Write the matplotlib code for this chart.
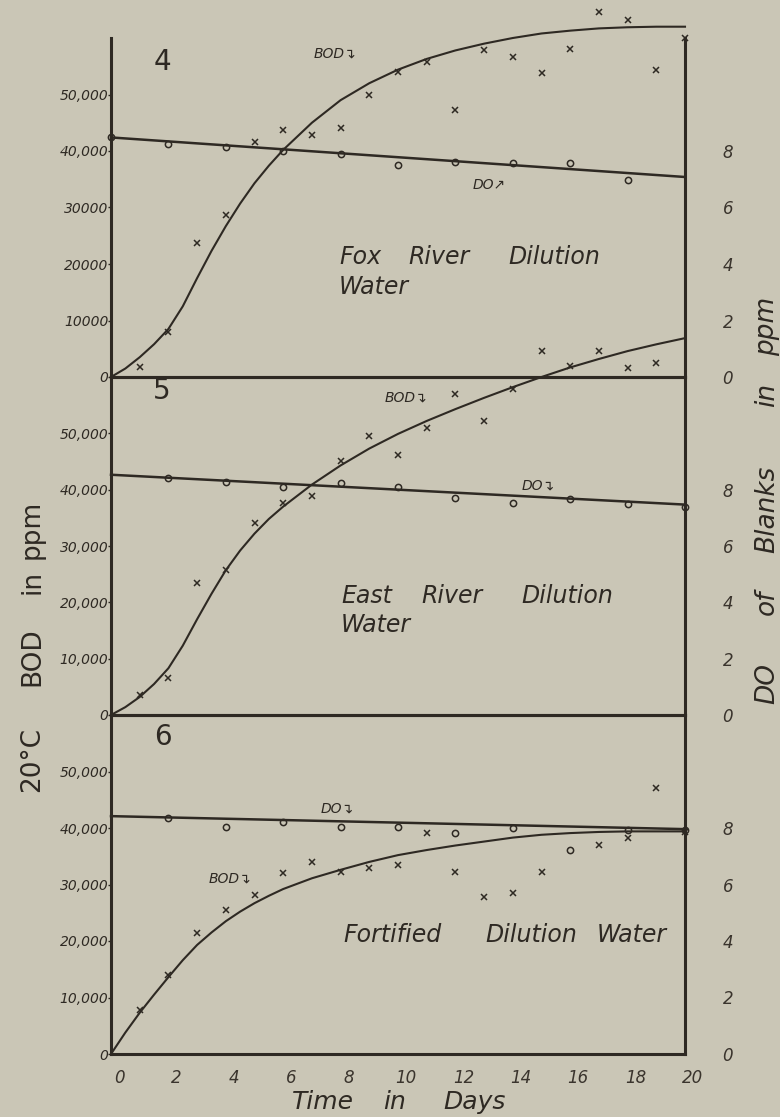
import numpy as np
import matplotlib; matplotlib.use("Agg")
import matplotlib.pyplot as plt
import matplotlib.transforms as mtrans

paper = '#cac6b6'; ink = '#2e2923'

# fitted BOD curves (ppm)
fit_day = [0, 0.5, 1, 1.5, 2, 2.5, 3, 3.5, 4, 4.5, 5, 5.5, 6, 7, 8, 9, 10, 11, 12, 13,
           14, 15, 16, 17, 18, 19, 20]
bod_fit1 = [0, 1500, 3500, 5800, 8500, 12500, 17500, 22300, 26700, 30700, 34300, 37400,
            40200, 45000, 49000, 52000, 54400, 56300, 57800, 59000, 60000, 60800, 61300,
            61700, 61900, 62000, 62000]
bod_fit2 = [0, 1400, 3200, 5500, 8300, 12300, 17000, 21500, 25700, 29200, 32200, 34800,
            37000, 40900, 44300, 47300, 49900, 52200, 54300, 56300, 58200, 60000, 61700,
            63200, 64600, 65800, 66900]
bod_fit3 = [0, 3800, 7300, 10500, 13600, 16600, 19300, 21500, 23500, 25200, 26700, 28000,
            29200, 31100, 32600, 34000, 35200, 36100, 36900, 37600, 38300, 38800, 39100,
            39300, 39400, 39400, 39400]

# observed BOD (ppm)
p1_day = [1, 2, 3, 4, 5, 6, 7, 8, 9, 10, 11, 12, 13, 14, 15, 16, 17, 18, 19, 20]
p1_bod = [1800, 8000, 23700, 28700, 41600, 43700, 42800, 44000, 49900, 54000, 55800,
          47300, 57900, 56700, 53800, 58000, 64600, 63200, 54300, 60000]
p2_day = [1, 2, 3, 4, 5, 6, 7, 8, 9, 10, 11, 12, 13, 14, 15, 16, 17, 18, 19]
p2_bod = [3500, 6500, 23400, 25700, 34000, 37700, 38900, 45100, 49600, 46200, 51000,
          57000, 52200, 57900, 64600, 61900, 64600, 61600, 62500]
p3_day = [1, 2, 3, 4, 5, 6, 7, 8, 9, 10, 11, 12, 13, 14, 15, 17, 18, 19, 20]
p3_bod = [7800, 14000, 21400, 25500, 28100, 32000, 34000, 32200, 32900, 33500, 39100,
          32200, 27800, 28500, 32200, 37000, 38200, 47100, 39300]

# DO of blanks (ppm): fitted line ends and observations
do_line_day = [0, 20]
do_line1 = [8.48, 7.08]
do_line2 = [8.53, 7.47]
do_line3 = [8.42, 7.96]
do1_day = [0, 2, 4, 6, 8, 10, 12, 14, 16, 18]
do1 = [8.5, 8.25, 8.14, 8.0, 7.89, 7.5, 7.6, 7.57, 7.57, 6.97]
do2_day = [2, 4, 6, 8, 10, 12, 14, 16, 18, 20]
do2 = [8.42, 8.28, 8.1, 8.25, 8.1, 7.72, 7.54, 7.68, 7.5, 7.4]
do3_day = [2, 4, 6, 8, 10, 12, 14, 16, 18, 20]
do3 = [8.35, 8.04, 8.2, 8.04, 8.04, 7.82, 8.0, 7.22, 7.93, 7.93]

left_ticks = [0, 10000, 20000, 30000, 40000, 50000]
left_labels = [['0', '10000', '20000', '30000', '40,000', '50,000'],
               ['0', '10,000', '20,000', '30,000', '40,000', '50,000'],
               ['0', '10,000', '20,000', '30,000', '40,000', '50,000']]
right_ticks = [0, 2, 4, 6, 8]
x_ticks = [0, 2, 4, 6, 8, 10, 12, 14, 16, 18, 20]
panel_nums = ['4', '5', '6']
# panel captions, word by word (hand lettering is widely spaced): (word, day, ppm)
captions = [[('Fox', 7.94, 21200), ('River', 10.35, 21200), ('Dilution', 13.83, 21200),
             ('Water', 7.94, 16000)],
            [('East', 8.01, 21200), ('River', 10.8, 21200), ('Dilution', 14.29, 21200),
             ('Water', 8.01, 15900)],
            [('Fortified', 8.08, 21100), ('Dilution', 13.03, 21100), ('Water', 16.93, 21100)]]

fig = plt.figure(figsize=(7.8, 11.17), dpi=100, facecolor=paper)
W, H = 780, 1117
x0, xw = 111 / W, 574 / W
bounds = [(38, 377), (377, 715), (715, 1054)]
fits = [bod_fit1, bod_fit2, bod_fit3]
pts = [(p1_day, p1_bod), (p2_day, p2_bod), (p3_day, p3_bod)]
dolines = [do_line1, do_line2, do_line3]
dopts = [(do1_day, do1), (do2_day, do2), (do3_day, do3)]
num_pos = [(1.5, 55700), (1.45, 57500), (1.5, 56100)]
bod_lab = [(7.07, 57300, 'BOD↴'), (9.55, 56300, 'BOD↴'), (3.4, 31000, 'BOD↴')]
do_lab = [(12.6, 34000, 'DO↗'), (14.3, 40700, 'DO↴'), (7.3, 43400, 'DO↴')]

for i, (top, bot) in enumerate(bounds):
    ax = fig.add_axes([x0, 1 - bot / H, xw, (bot - top) / H])
    ax.set_facecolor('none')
    ax.set_xlim(0, 20); ax.set_ylim(0, 60000)
    for s in ax.spines.values():
        s.set_linewidth(2.2); s.set_color(ink)
    if i == 0:
        ax.spines['top'].set_visible(False)
    ax.plot(fit_day, fits[i], color=ink, lw=1.5, clip_on=False, zorder=3)
    ax.plot(pts[i][0], pts[i][1], 'x', color=ink, ms=4, mew=1.1, clip_on=False, zorder=4)
    ax.set_yticks(left_ticks)
    ax.set_yticklabels(left_labels[i], fontsize=10, style='italic', color='#3a342d')
    ax.tick_params(axis='y', length=2, width=1, pad=0, colors=ink)
    ax.text(num_pos[i][0], num_pos[i][1], panel_nums[i], fontsize=20, color=ink, va='center')
    for word, wx, wy in captions[i]:
        ax.text(wx, wy, word, fontsize=17, style='italic', color=ink, va='center')
    ax.text(bod_lab[i][0], bod_lab[i][1], bod_lab[i][2], fontsize=10, style='italic', color=ink, va='center')
    ax.text(do_lab[i][0], do_lab[i][1], do_lab[i][2], fontsize=10, style='italic', color=ink, va='center')
    if i < 2:
        ax.set_xticks([])
    else:
        ax.set_xticks(x_ticks)
        ax.set_xticklabels([str(t) for t in x_ticks], fontsize=12, style='italic', color='#3a342d')
        ax.tick_params(axis='x', length=0, pad=11)
        off = mtrans.ScaledTranslation(8 / 100, 0, fig.dpi_scale_trans)
        for lab in ax.get_xticklabels():
            lab.set_transform(lab.get_transform() + off)

    ax2 = ax.twinx()
    ax2.set_ylim(0, 12)
    for s in ax2.spines.values():
        s.set_visible(False)
    ax2.plot(do_line_day, dolines[i], color=ink, lw=1.8, clip_on=False, zorder=3)
    ax2.plot(dopts[i][0], dopts[i][1], 'o', ms=4.5, mfc='none', mec=ink, mew=1.1, clip_on=False)
    ax2.set_yticks(right_ticks)
    ax2.set_yticklabels([str(t) for t in right_ticks], fontsize=12, style='italic', color='#3a342d')
    ax2.tick_params(axis='y', length=0, pad=27)

# axis titles, placed word by word to follow the spaced lettering
for word, py in [('20°C', 760), ('BOD', 657), ('in', 582), ('ppm', 529)]:
    fig.text(32 / W, 1 - py / H, word, rotation=90, ha='center', va='center',
             fontsize=19, color=ink)
for word, py in [('DO', 683), ('of', 602), ('Blanks', 509), ('in', 395), ('ppm', 326)]:
    fig.text(767 / W, 1 - py / H, word, rotation=90, ha='center', va='center',
             fontsize=19, style='italic', color=ink)
for word, px in [('Time', 323), ('in', 395), ('Days', 475)]:
    fig.text(px / W, 1 - 1102 / H, word, ha='center', va='center',
             fontsize=18, style='italic', color=ink)

fig.savefig('out.png', dpi=100, facecolor=paper)
